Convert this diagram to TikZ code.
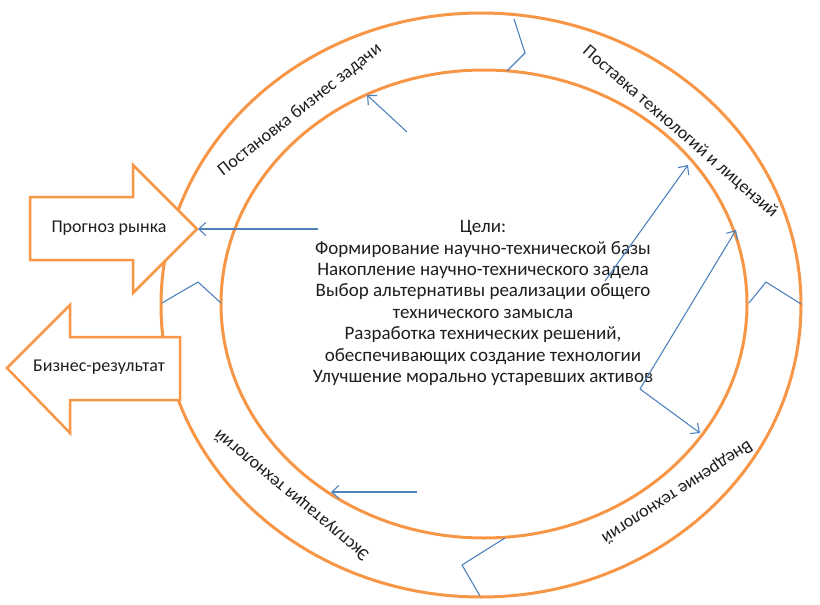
\documentclass[tikz,border=0pt]{standalone}
\usepackage{fontspec}
\setmainfont{Carlito}
\usetikzlibrary{arrows.meta}
\definecolor{ringorange}{RGB}{247,150,70}
\definecolor{lineblue}{RGB}{79,129,189}
\definecolor{txt}{RGB}{30,30,30}
\begin{document}
\begin{tikzpicture}[x=1pt,y=-1pt,
  ring/.style={draw=ringorange,line width=3pt},
  blockarrow/.style={draw=ringorange,line width=2.5pt,fill=white,line join=miter},
  link/.style={draw=lineblue,line width=1.1pt,line join=miter},
  arrowlink/.style={link,-{Straight Barb[length=7pt,width=13pt,line width=1.1pt]}},
  ringlabel/.style={font=\fontsize{18}{21}\selectfont,text=txt,inner sep=0pt},
  boxlabel/.style={font=\fontsize{18}{21}\selectfont,text=txt,inner sep=0pt},
  goals/.style={font=\fontsize{19}{21.4}\selectfont,text=txt,align=center,inner sep=0pt}
]
\useasboundingbox (0,0) rectangle (820,605);

% rings
\draw[ring] (481,305) ellipse [x radius=320, y radius=292];
\draw[ring] (484,304) ellipse [x radius=263, y radius=234];

% block arrows
\draw[blockarrow] (30,197) -- (133,197) -- (133,165) -- (197,229) -- (133,293) -- (133,260) -- (30,260) -- cycle;
\draw[blockarrow] (180,337) -- (70,337) -- (70,305) -- (7,368) -- (70,433) -- (70,400) -- (180,400) -- cycle;
\node[boxlabel] (prognoz) at (109,228) {Прогноз рынка};
\node[boxlabel] (result) at (99,367) {Бизнес-результат};

% ring labels
\node[ringlabel,rotate=38.2] (lab1) at (300,110) {Постановка бизнес задачи};
\node[ringlabel,rotate=-41] (lab2) at (680,132) {Поставка технологий и лицензий};
\node[ringlabel,rotate=213] (lab3) at (677,492) {Внедрение технологий};
\node[ringlabel,rotate=140.4] (lab4) at (292,495) {Эксплуатация технологий};

% centre text
\node[goals] (goals) at (483,303) {Цели:\\
Формирование научно-технической базы\\
Накопление научно-технического задела\\
Выбор альтернативы реализации общего\\
технического замысла\\
Разработка технических решений,\\
обеспечивающих создание технологии\\
Улучшение морально устаревших активов};

% coordinates
\coordinate (z1a) at (514,19);  \coordinate (z1b) at (525,53);  \coordinate (z1c) at (507,71);
\coordinate (z2a) at (749,303); \coordinate (z2b) at (766,282); \coordinate (z2c) at (801,304);
\coordinate (z3a) at (162,303); \coordinate (z3b) at (198,282); \coordinate (z3c) at (221,303);
\coordinate (z4a) at (505,538); \coordinate (z4b) at (462,565); \coordinate (z4c) at (480,596);
\coordinate (a1s) at (407,132); \coordinate (a1t) at (367,95);
\coordinate (a2s) at (318,229); \coordinate (a2t) at (198,229);
\coordinate (a3s) at (605,281); \coordinate (a3t) at (688,165);
\coordinate (a4s) at (640,389); \coordinate (a4t) at (736,230); \coordinate (a4u) at (700,433);
\coordinate (a5s) at (417,492); \coordinate (a5t) at (331,492);

% zigzags
\draw[link] (z1a) -- (z1b) -- (z1c);
\draw[link] (z2a) -- (z2b) -- (z2c);
\draw[link] (z3a) -- (z3b) -- (z3c);
\draw[link] (z4a) -- (z4b) -- (z4c);

% arrows
\draw[arrowlink] (a1s) -- (a1t);
\draw[arrowlink] (a2s) -- (a2t);
\draw[arrowlink] (a3s) -- (a3t);
\draw[arrowlink] (a4s) -- (a4t);
\draw[arrowlink] (a4s) -- (a4u);
\draw[arrowlink] (a5s) -- (a5t);
\end{tikzpicture}
\end{document}
